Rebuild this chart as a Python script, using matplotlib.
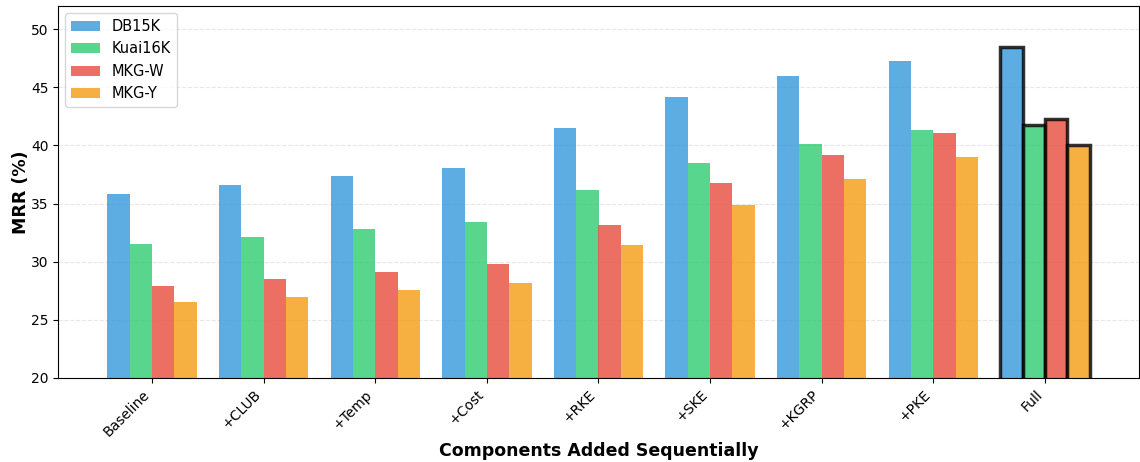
import matplotlib
matplotlib.use('Agg')
import matplotlib.pyplot as plt
import numpy as np

# MRR (%) per ablation step
components = ['Baseline', '+CLUB', '+Temp', '+Cost', '+RKE', '+SKE', '+KGRP', '+PKE', 'Full']
db15k   = [35.8, 36.6, 37.4, 38.1, 41.5, 44.2, 46.0, 47.3, 48.5]
kuai16k = [31.5, 32.1, 32.8, 33.4, 36.2, 38.5, 40.1, 41.3, 41.8]
mkg_w   = [27.9, 28.5, 29.1, 29.8, 33.2, 36.8, 39.2, 41.1, 42.3]
mkg_y   = [26.5, 27.0, 27.6, 28.2, 31.4, 34.9, 37.1, 39.0, 40.0]

series = [('DB15K', db15k, '#3498db'), ('Kuai16K', kuai16k, '#2ecc71'),
          ('MKG-W', mkg_w, '#e74c3c'), ('MKG-Y', mkg_y, '#f39c12')]

fig = plt.figure(figsize=(11.4, 4.62), dpi=100)
ax = fig.add_axes([0.051, 0.182, 0.948, 0.805])

x = np.arange(len(components))
w = 0.2
for i, (name, vals, col) in enumerate(series):
    bars = ax.bar(x + (i - 1.5) * w, vals, w, label=name, color=col, alpha=0.8)
    # highlight the full model
    bars[-1].set_edgecolor('black')
    bars[-1].set_linewidth(2.5)

ax.set_ylim(20, 52)
ax.set_xticks(x)
ax.set_xticklabels(components, rotation=45, ha='right', fontsize=10)
ax.tick_params(axis='y', labelsize=10)
ax.set_xlabel('Components Added Sequentially', fontsize=12.5, fontweight='bold', labelpad=2)
ax.set_ylabel('MRR (%)', fontsize=12.5, fontweight='bold', labelpad=1)
ax.yaxis.grid(True, linestyle='--', alpha=0.3)
ax.set_axisbelow(True)
ax.legend(loc='upper left', fontsize=10.5)

fig.savefig('out.png', dpi=100)
